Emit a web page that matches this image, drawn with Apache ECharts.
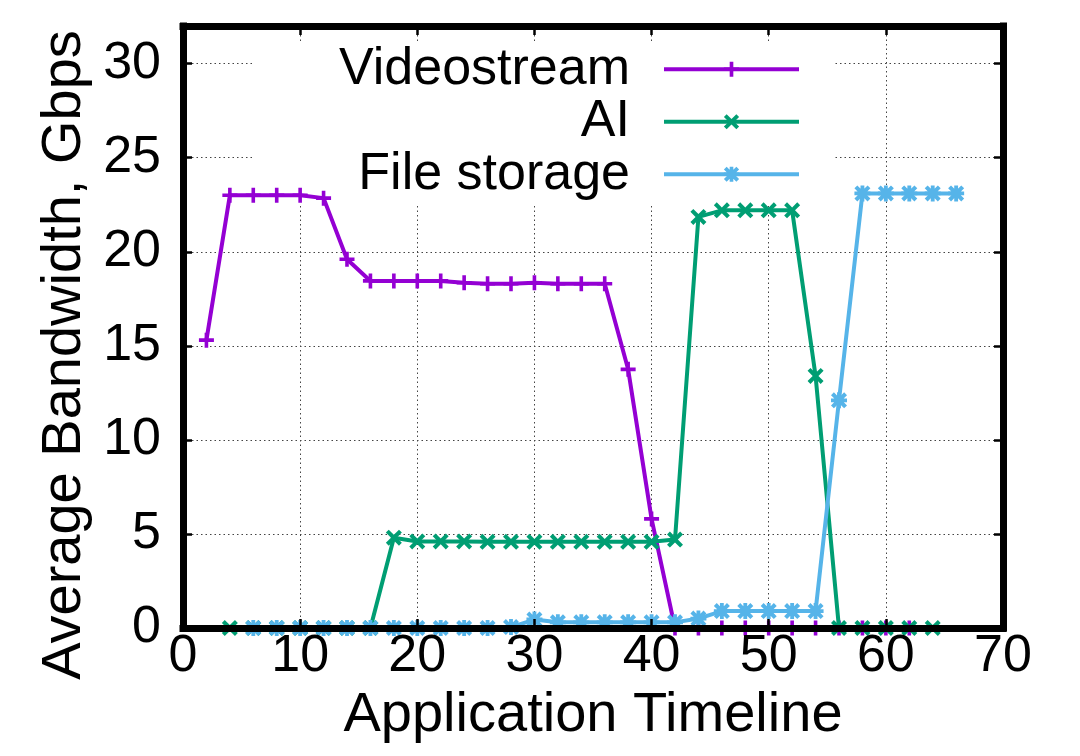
<!DOCTYPE html>
<html>
<head>
<meta charset="utf-8">
<script src="https://cdn.jsdelivr.net/npm/echarts@6/dist/echarts.min.js"></script>
<style>
html,body{margin:0;padding:0;background:#fff;}
#chart{width:1080px;height:756px;}
</style>
</head>
<body>
<div id="chart"></div>
<script>
// ---- Data ----
const seriesNames = ['Videostream', 'AI', 'File storage'];
const videoX = [2,4,6,8,10,12,14,16,18,20,22,24,26,28,30,32,34,36,38,40,42,44,46,48,50,52,54,56,58,60,62];
const videoY = [15.3,23.0,23.0,23.0,23.0,22.85,19.6,18.45,18.45,18.45,18.45,18.35,18.3,18.3,18.35,18.3,18.3,18.3,13.75,5.8,0,0,0,0,0,0,0,0,0,0,0];
const aiX = [4,6,8,10,12,14,16,18,20,22,24,26,28,30,32,34,36,38,40,42,44,46,48,50,52,54,56,58,60,62,64];
const aiY = [0,0,0,0,0,0,0,4.8,4.6,4.6,4.6,4.58,4.58,4.58,4.58,4.58,4.58,4.58,4.58,4.7,21.85,22.2,22.2,22.2,22.2,13.4,0,0,0,0,0];
const fileX = [6,8,10,12,14,16,18,20,22,24,26,28,30,32,34,36,38,40,42,44,46,48,50,52,54,56,58,60,62,64,66];
const fileY = [0,0,0,0,0,0,0,0,0,0,0,0.05,0.45,0.3,0.3,0.3,0.3,0.3,0.3,0.5,0.9,0.9,0.9,0.9,0.9,12.1,23.1,23.1,23.1,23.1,23.1];
const xTicks = [0,10,20,30,40,50,60,70];
const yTicks = [0,5,10,15,20,25,30];
const xTitle = 'Application Timeline';
const yTitle = 'Average Bandwidth, Gbps';

const colors = ['#9400D3', '#009E73', '#56B4E9'];
const PLUS = 'M3.8,0 L6.2,0 L6.2,3.8 L10,3.8 L10,6.2 L6.2,6.2 L6.2,10 L3.8,10 L3.8,6.2 L0,6.2 L0,3.8 L3.8,3.8 Z';
const CROSS = 'M0,1.8 L1.8,0 L5,3.2 L8.2,0 L10,1.8 L6.8,5 L10,8.2 L8.2,10 L5,6.8 L1.8,10 L0,8.2 L3.2,5 Z';
const symbols = ['path://' + PLUS, 'path://' + CROSS, 'path://' + PLUS + ' ' + CROSS];
const FONT = 'Liberation Sans';

function pairs(xs, ys){ return xs.map((x,i)=>[x, ys[i]]); }
const datasets = [pairs(videoX, videoY), pairs(aiX, aiY), pairs(fileX, fileY)];

const gridLine = {show:true, lineStyle:{color:'#444', width:1, type:[1.5,3]}};
const frameLine = {show:true, onZero:false, lineStyle:{color:'#000', width:7, cap:'square'}};
const tickIn = {show:true, inside:true, length:9, lineStyle:{color:'#000', width:2.5}};

const chart = echarts.init(document.getElementById('chart'), null, {renderer:'canvas'});
chart.setOption({
  animation:false,
  backgroundColor:'#fff',
  grid:{left:183, right:77, top:26, bottom:128, containLabel:false},
  legend:{
    orient:'vertical', align:'right', right:246, top:42,
    itemWidth:135, itemHeight:19, itemGap:0,
    padding:[1,33,3,87], backgroundColor:'#fff', z:1,
    selectedMode:false,
    lineStyle:{width:4},
    itemStyle:{borderWidth:0},
    textStyle:{fontFamily:FONT, fontSize:52, color:'#000', lineHeight:52.5, padding:[0,29,0,0]},
    data:seriesNames
  },
  xAxis:[
    {type:'value', position:'bottom', min:0, max:70, interval:10, z:5,
     axisLine:frameLine, axisTick:tickIn, splitLine:{show:false},
     axisLabel:{fontFamily:FONT, fontSize:52, color:'#000', margin:3,
       formatter:v=>xTicks.indexOf(v)>=0?String(v):''},
     name:xTitle, nameLocation:'middle', nameGap:49,
     nameTextStyle:{fontFamily:FONT, fontSize:56, color:'#000'}},
    {type:'value', position:'top', min:0, max:70, interval:10, z:0,
     axisLine:frameLine, axisTick:tickIn, splitLine:gridLine, axisLabel:{show:false}}
  ],
  yAxis:[
    {type:'value', position:'left', min:0, max:32, interval:5, z:5,
     axisLine:frameLine, axisTick:tickIn, splitLine:{show:false},
     axisLabel:{fontFamily:FONT, fontSize:52, color:'#000', margin:22, showMaxLabel:false,
       formatter:v=>yTicks.indexOf(v)>=0?String(v):''},
     name:yTitle, nameLocation:'middle', nameGap:82,
     nameTextStyle:{fontFamily:FONT, fontSize:56, color:'#000', padding:[0,56,0,0]}},
    {type:'value', position:'right', min:0, max:32, interval:5, z:0,
     axisLine:frameLine, axisTick:tickIn, splitLine:gridLine, axisLabel:{show:false}}
  ],
  series: seriesNames.map((name,i)=>({
    name:name, type:'line', xAxisIndex:0, yAxisIndex:0, z:2+i,
    data:datasets[i],
    symbol:symbols[i], symbolSize:i===0?15:16, showSymbol:true, showAllSymbol:true,
    lineStyle:{color:colors[i], width:4},
    itemStyle:{color:colors[i], borderWidth:0},
    emphasis:{disabled:true}
  }))
});
</script>
</body>
</html>
